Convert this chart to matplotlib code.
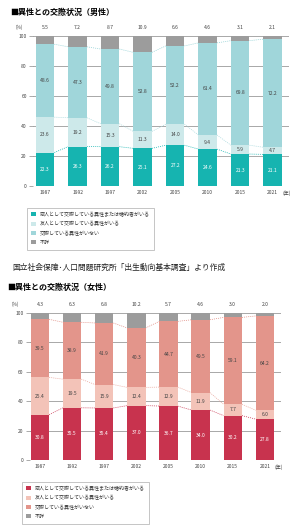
import matplotlib

matplotlib.use("Agg")
import matplotlib.pyplot as plt
import numpy as np
from matplotlib.patches import Patch

plt.rcParams["font.family"] = ["Noto Sans CJK JP", "DejaVu Sans"]

years = ["1987", "1992", "1997", "2002", "2005", "2010", "2015", "2021"]
legend_labels = [
    "恋人として交際している異性または婚約者がいる",
    "友人として交際している異性がいる",
    "交際している異性がいない",
    "不詳",
]

male_lover = [22.3, 26.3, 26.2, 25.1, 27.2, 24.6, 21.3, 21.1]
male_friend = [23.6, 19.2, 15.3, 11.3, 14.0, 9.4, 5.9, 4.7]
male_none = [48.6, 47.3, 49.8, 52.8, 52.2, 61.4, 69.8, 72.2]
male_unknown = [5.5, 7.2, 8.7, 10.9, 6.6, 4.6, 3.1, 2.1]

female_lover = [30.8, 35.5, 35.4, 37.0, 36.7, 34.0, 30.2, 27.8]
female_friend = [25.4, 19.5, 15.9, 12.4, 12.9, 11.9, 7.7, 6.0]
female_none = [39.5, 38.9, 41.9, 40.3, 44.7, 49.5, 59.1, 64.2]
female_unknown = [4.3, 6.3, 6.8, 10.2, 5.7, 4.6, 3.0, 2.0]

male_colors = ["#16b4b0", "#cde9ea", "#a0d6da", "#9c9c9c"]
female_colors = ["#c8334e", "#f3c3b8", "#e3958b", "#9c9c9c"]
male_line_colors = ["#16b4b0", "#a8d8dc", "#8fd0d4"]
female_line_colors = ["#c8334e", "#e8a49a", "#e08a80"]

W, H = 299, 531
fig = plt.figure(figsize=(W / 100, H / 100), dpi=100)


def draw_chart(rect, series, colors, line_colors, xlim):
    ax = fig.add_axes(rect)
    ax.set_axisbelow(True)
    x = np.arange(len(years))
    width = 0.57
    bottom = np.zeros(len(years))
    tops = []
    for i, vals in enumerate(series):
        vals = np.asarray(vals)
        ax.bar(x, vals, width, bottom=bottom, color=colors[i], zorder=2)
        if i < 3:
            tc = "white" if i == 0 else "#444444"
            for xi, b, v in zip(x, bottom, vals):
                ax.text(xi, b + v / 2, f"{v:.1f}", ha="center", va="center",
                        fontsize=3.6, color=tc, zorder=3)
        bottom = bottom + vals
        tops.append(bottom.copy())
    # unknown shares sit above the bars
    for xi, v in zip(x, series[3]):
        ax.text(xi, 104, f"{v:.1f}", ha="center", va="bottom", fontsize=3.6,
                color="#444444", clip_on=False)
    ax.text(-0.78, 104, "(%)", ha="center", va="bottom", fontsize=3.4,
            color="#444444", clip_on=False)

    # dotted connectors between neighbouring bars
    cum = [tops[0], tops[1], 100 - np.asarray(series[3])]
    for k, c in enumerate(cum):
        for j in range(len(years) - 1):
            ax.plot([x[j] + width / 2, x[j + 1] - width / 2], [c[j], c[j + 1]],
                    ls=(0, (1.5, 1.5)), lw=0.5, color=line_colors[k], zorder=1)

    ax.set_xlim(*xlim)
    ax.set_ylim(0, 100)
    ax.set_yticks(range(0, 101, 20))
    ax.set_xticks(x)
    ax.set_xticklabels(years)
    ax.tick_params(axis="both", labelsize=3.6, colors="#444444", length=0, pad=3)
    ax.tick_params(axis="y", length=3, width=0.5, color="#888888", pad=1.5)
    ax.yaxis.grid(True, color="#9a9a9a", lw=0.6)
    for s in ax.spines.values():
        s.set_visible(False)
    ax.annotate("(年)", xy=(7.3, 0), xytext=(0, -3), textcoords="offset points",
                ha="left", va="top", fontsize=3.6, color="#444444",
                annotation_clip=False)
    return ax


def add_legend(colors, x0, y0):
    handles = [Patch(facecolor=c, edgecolor="none") for c in colors]
    leg = fig.legend(handles, legend_labels, loc="upper left",
                     bbox_to_anchor=(x0 / W, 1 - y0 / H), fontsize=3.6,
                     frameon=True, fancybox=False, edgecolor="#999999",
                     handlelength=0.9, handleheight=0.9, handletextpad=0.8,
                     labelspacing=0.85, borderpad=0.9, labelcolor="#333333")
    leg.get_frame().set_linewidth(0.5)


fig.text(10 / W, 1 - 12 / H, "■異性との交際状況（男性）", fontsize=5.8,
         fontweight="bold", va="center", ha="left")
draw_chart([33 / W, 1 - 186 / H, 256 / W, 150 / H],
           [male_lover, male_friend, male_none, male_unknown], male_colors,
           male_line_colors, (-0.37, 7.5))
add_legend(male_colors, 24, 205)

fig.text(12 / W, 1 - 268 / H, "国立社会保障･人口問題研究所「出生動向基本調査」より作成",
         fontsize=5.6, va="center", ha="left", color="#222222")

fig.text(7 / W, 1 - 287 / H, "■異性との交際状況（女性）", fontsize=5.8,
         fontweight="bold", va="center", ha="left")
draw_chart([30 / W, 1 - 460 / H, 251 / W, 147 / H],
           [female_lover, female_friend, female_none, female_unknown],
           female_colors, female_line_colors, (-0.31, 7.5))
add_legend(female_colors, 19, 479)

fig.savefig("out.png", dpi=100, facecolor="white")
